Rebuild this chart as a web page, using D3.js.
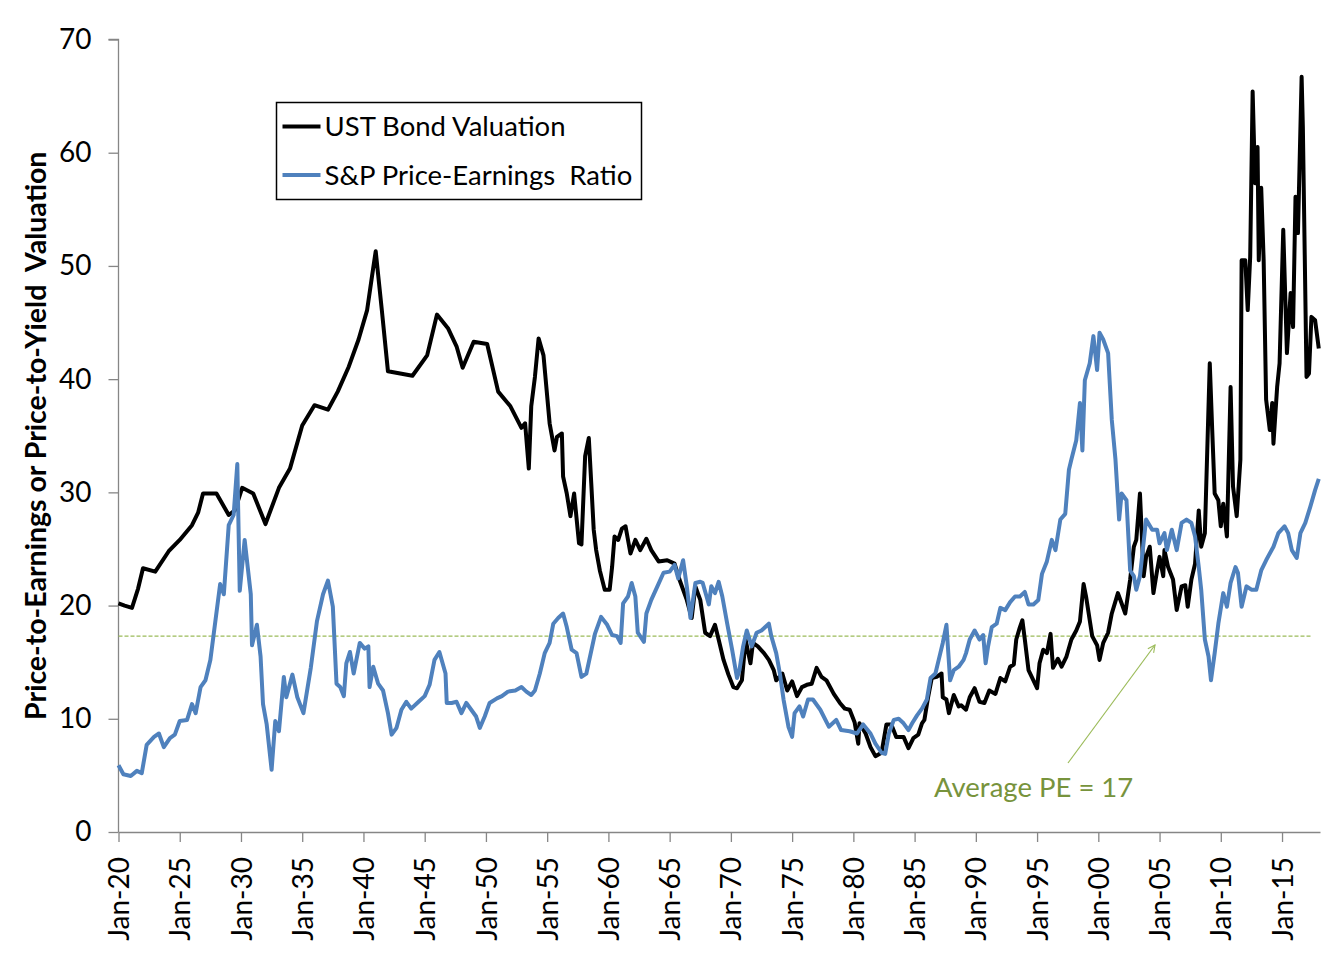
<!DOCTYPE html>
<html>
<head>
<meta charset="utf-8">
<script src="https://cdn.jsdelivr.net/npm/d3@7"></script>
<style>
  body { margin: 0; background: #fff; }
  svg { display: block; font-family: Lato, "Open Sans", sans-serif; }
</style>
</head>
<body>
<script>
// decimal year, value
const ustBond = [
  [1920.0, 20.2], [1920.5, 20.0], [1921.1, 19.8], [1921.6, 21.5], [1922.0, 23.3], [1923.0, 23.0],
  [1924.1, 24.8], [1925.0, 25.8], [1926.0, 27.1], [1926.5, 28.2], [1926.9, 29.9], [1928.0, 29.9],
  [1929.0, 28.0], [1929.5, 28.4], [1930.1, 30.4], [1931.0, 29.9], [1932.0, 27.2], [1933.1, 30.4],
  [1934.0, 32.1], [1935.0, 35.9], [1936.0, 37.7], [1937.1, 37.3], [1937.9, 38.9], [1938.8, 41.1],
  [1939.6, 43.5], [1940.3, 46.1], [1940.7, 49.1], [1941.0, 51.3], [1941.5, 46.1], [1942.0, 40.7],
  [1943.0, 40.5], [1944.0, 40.3], [1945.2, 42.1], [1946.0, 45.7], [1946.9, 44.5], [1947.6, 42.9],
  [1948.1, 41.0], [1949.0, 43.3], [1950.1, 43.1], [1951.0, 38.9], [1952.0, 37.6], [1952.9, 35.7],
  [1953.2, 36.1], [1953.5, 32.1], [1953.7, 37.6], [1954.0, 40.2], [1954.3, 43.6], [1954.7, 42.1],
  [1955.2, 36.1], [1955.6, 33.7], [1955.8, 34.9], [1956.2, 35.2], [1956.3, 31.4], [1956.6, 29.9],
  [1956.9, 27.9], [1957.2, 29.9], [1957.6, 25.5], [1957.8, 25.4], [1958.1, 33.2], [1958.4, 34.8],
  [1958.6, 30.8], [1958.8, 26.7], [1959.0, 24.9], [1959.3, 23.1], [1959.7, 21.4], [1960.1, 21.4],
  [1960.3, 23.4], [1960.5, 26.1], [1960.8, 25.8], [1961.1, 26.8], [1961.4, 27.0], [1961.8, 24.6],
  [1962.2, 25.8], [1962.6, 24.9], [1963.1, 25.9], [1963.5, 24.9], [1964.1, 23.9], [1964.8, 24.0],
  [1965.4, 23.7], [1965.8, 22.3], [1966.4, 20.5], [1966.8, 18.9], [1967.1, 21.7], [1967.5, 20.5],
  [1967.9, 17.6], [1968.3, 17.3], [1968.7, 18.3], [1969.0, 17.0], [1969.4, 15.2], [1969.8, 13.9],
  [1970.2, 12.8], [1970.5, 12.7], [1970.9, 13.4], [1971.2, 17.0], [1971.6, 14.9], [1971.8, 16.7],
  [1972.2, 16.4], [1972.7, 15.8], [1973.1, 15.2], [1973.5, 14.3], [1973.7, 13.4], [1974.2, 14.0],
  [1974.6, 12.5], [1975.0, 13.3], [1975.4, 12.0], [1975.8, 12.8], [1976.2, 13.0], [1976.6, 13.1],
  [1977.0, 14.5], [1977.4, 13.7], [1977.8, 13.4], [1978.4, 12.2], [1978.9, 11.4], [1979.3, 10.9],
  [1979.7, 10.8], [1980.1, 9.7], [1980.4, 7.8], [1980.5, 9.6], [1981.0, 8.7], [1981.4, 7.5],
  [1981.8, 6.7], [1982.3, 7.0], [1982.7, 9.5], [1983.1, 9.5], [1983.5, 8.4], [1984.1, 8.4],
  [1984.5, 7.4], [1984.9, 8.3], [1985.3, 8.6], [1985.6, 9.6], [1985.8, 9.9], [1986.1, 11.9],
  [1986.4, 13.6], [1986.8, 13.7], [1987.2, 14.0], [1987.3, 11.9], [1987.6, 11.7], [1987.8, 10.5],
  [1988.2, 12.1], [1988.6, 11.1], [1988.8, 11.2], [1989.2, 10.8], [1989.5, 11.9], [1989.9, 12.7],
  [1990.3, 11.5], [1990.7, 11.4], [1991.1, 12.5], [1991.6, 12.2], [1992.0, 13.6], [1992.4, 13.3],
  [1992.8, 14.6], [1993.1, 14.8], [1993.3, 17.0], [1993.6, 18.1], [1993.8, 18.7], [1994.0, 17.0],
  [1994.3, 14.3], [1994.7, 13.4], [1995.0, 12.7], [1995.2, 14.9], [1995.5, 16.1], [1995.8, 15.8],
  [1996.1, 17.5], [1996.3, 14.5], [1996.7, 15.3], [1997.0, 14.6], [1997.4, 15.5], [1997.8, 17.0],
  [1998.2, 17.8], [1998.5, 18.6], [1998.8, 21.9], [1999.0, 20.8], [1999.5, 17.3], [1999.9, 16.5],
  [2000.1, 15.2], [2000.4, 16.7], [2000.8, 17.6], [2001.1, 19.3], [2001.6, 21.1], [2002.2, 19.3],
  [2002.6, 22.3], [2002.9, 25.2], [2003.1, 25.8], [2003.4, 29.9], [2003.7, 22.6], [2003.9, 24.3],
  [2004.2, 25.2], [2004.5, 21.1], [2004.8, 23.1], [2005.0, 24.3], [2005.3, 22.6], [2005.4, 24.9],
  [2005.7, 23.4], [2006.1, 22.3], [2006.4, 19.6], [2006.8, 21.7], [2007.1, 21.8], [2007.3, 19.9],
  [2007.6, 22.3], [2007.9, 23.7], [2008.2, 28.4], [2008.4, 25.2], [2008.7, 26.4], [2009.1, 41.4],
  [2009.3, 35.5], [2009.5, 29.9], [2009.8, 29.3], [2010.0, 27.0], [2010.2, 29.0], [2010.5, 26.1],
  [2010.8, 39.3], [2011.0, 30.5], [2011.3, 27.9], [2011.6, 32.9], [2011.7, 50.5], [2012.0, 50.5],
  [2012.2, 46.1], [2012.4, 50.8], [2012.6, 65.4], [2012.8, 57.3], [2013.0, 60.5], [2013.1, 50.5],
  [2013.3, 56.9], [2013.5, 50.5], [2013.7, 38.2], [2014.0, 35.5], [2014.2, 37.9], [2014.3, 34.3],
  [2014.6, 39.3], [2014.8, 41.4], [2015.1, 53.2], [2015.4, 42.3], [2015.7, 47.6], [2015.9, 44.6],
  [2016.1, 56.1], [2016.3, 52.9], [2016.6, 66.7], [2016.7, 62.3], [2017.0, 40.2], [2017.2, 40.5],
  [2017.4, 45.5], [2017.7, 45.2], [2018.0, 42.7]
];

const spPE = [
  [1920.0, 5.9], [1920.4, 5.1], [1921.0, 4.95], [1921.5, 5.4], [1921.9, 5.2], [1922.3, 7.7],
  [1922.9, 8.4], [1923.3, 8.7], [1923.7, 7.5], [1924.2, 8.3], [1924.6, 8.6], [1925.0, 9.8],
  [1925.6, 9.9], [1926.0, 11.3], [1926.3, 10.5], [1926.7, 12.8], [1927.1, 13.4], [1927.5, 15.2],
  [1927.8, 17.7], [1928.3, 21.9], [1928.6, 21.0], [1929.0, 27.1], [1929.4, 28.0], [1929.7, 32.5],
  [1929.9, 21.3], [1930.3, 25.8], [1930.8, 21.0], [1930.9, 16.5], [1931.3, 18.3], [1931.6, 15.5],
  [1931.8, 11.3], [1932.1, 9.5], [1932.5, 5.5], [1932.8, 9.8], [1933.1, 8.9], [1933.5, 13.7],
  [1933.7, 11.9], [1934.2, 13.9], [1934.6, 11.9], [1935.1, 10.5], [1935.7, 14.5], [1936.2, 18.6],
  [1936.7, 21.0], [1937.1, 22.2], [1937.5, 19.9], [1937.8, 13.1], [1938.1, 12.8], [1938.4, 12.0],
  [1938.6, 14.9], [1938.9, 15.9], [1939.2, 14.0], [1939.7, 16.7], [1940.1, 16.2], [1940.4, 16.4],
  [1940.5, 12.8], [1940.8, 14.6], [1941.2, 13.1], [1941.6, 12.5], [1942.0, 10.5], [1942.3, 8.6],
  [1942.7, 9.2], [1943.1, 10.8], [1943.5, 11.5], [1943.9, 10.9], [1944.5, 11.5], [1945.0, 12.0],
  [1945.4, 13.0], [1945.8, 15.2], [1946.2, 15.9], [1946.7, 14.0], [1946.8, 11.4], [1947.2, 11.4],
  [1947.6, 11.5], [1948.0, 10.5], [1948.4, 11.4], [1948.8, 10.8], [1949.2, 10.2], [1949.5, 9.2],
  [1949.9, 10.2], [1950.3, 11.4], [1950.9, 11.8], [1951.3, 12.0], [1951.8, 12.4], [1952.4, 12.5],
  [1952.9, 12.8], [1953.3, 12.4], [1953.7, 12.1], [1954.0, 12.5], [1954.4, 14.0], [1954.8, 15.8],
  [1955.2, 16.7], [1955.5, 18.4], [1955.9, 18.9], [1956.3, 19.3], [1956.6, 18.1], [1957.0, 16.1],
  [1957.4, 15.8], [1957.8, 13.7], [1958.2, 14.0], [1958.9, 17.5], [1959.4, 19.0], [1959.9, 18.3],
  [1960.3, 17.4], [1960.7, 17.3], [1961.0, 16.7], [1961.2, 20.2], [1961.6, 20.8], [1961.9, 22.0],
  [1962.2, 20.8], [1962.4, 17.6], [1962.9, 16.8], [1963.1, 19.3], [1963.5, 20.5], [1964.0, 21.7],
  [1964.5, 22.9], [1965.0, 23.0], [1965.4, 23.6], [1965.7, 22.4], [1966.1, 24.0], [1966.4, 21.7],
  [1966.7, 18.9], [1967.1, 22.0], [1967.5, 22.1], [1967.7, 22.0], [1968.2, 20.1], [1968.4, 21.7],
  [1968.7, 21.1], [1969.0, 22.1], [1969.3, 20.8], [1969.7, 18.4], [1970.1, 16.1], [1970.5, 13.6],
  [1970.7, 14.3], [1971.0, 16.4], [1971.3, 17.8], [1971.7, 16.4], [1972.1, 17.6], [1972.5, 17.8],
  [1973.1, 18.4], [1973.3, 17.3], [1973.7, 15.8], [1974.0, 14.0], [1974.3, 11.7], [1974.7, 9.3],
  [1975.0, 8.4], [1975.2, 10.5], [1975.6, 11.1], [1975.9, 10.2], [1976.3, 11.7], [1976.7, 11.7],
  [1977.3, 10.8], [1978.0, 9.3], [1978.6, 9.9], [1979.0, 9.0], [1979.7, 8.9], [1980.3, 8.7],
  [1980.8, 9.5], [1981.4, 8.7], [1981.8, 7.8], [1982.3, 7.0], [1982.6, 6.9], [1982.9, 8.7],
  [1983.3, 9.9], [1983.7, 10.0], [1984.1, 9.6], [1984.5, 9.0], [1984.8, 9.6], [1985.2, 10.3],
  [1985.6, 10.9], [1986.0, 11.7], [1986.3, 13.6], [1986.7, 14.0], [1987.1, 15.8], [1987.3, 16.7],
  [1987.6, 18.3], [1987.9, 13.4], [1988.2, 14.3], [1988.6, 14.6], [1989.0, 15.2], [1989.2, 15.8],
  [1989.5, 17.0], [1989.9, 17.8], [1990.3, 17.0], [1990.6, 17.4], [1990.8, 14.9], [1991.0, 16.4],
  [1991.3, 18.1], [1991.7, 18.4], [1992.0, 19.8], [1992.4, 19.6], [1992.8, 20.3], [1993.2, 20.8],
  [1993.6, 20.8], [1994.0, 21.2], [1994.3, 20.1], [1994.7, 20.1], [1995.1, 20.5], [1995.4, 22.8],
  [1995.8, 23.9], [1996.2, 25.8], [1996.5, 24.9], [1996.9, 27.6], [1997.3, 28.1], [1997.6, 32.0],
  [1997.8, 32.9], [1998.2, 34.6], [1998.5, 37.9], [1998.7, 33.7], [1998.9, 39.9], [1999.3, 41.4],
  [1999.6, 43.8], [1999.9, 40.8], [2000.1, 44.1], [2000.4, 43.5], [2000.8, 42.3], [2001.1, 36.4],
  [2001.4, 32.9], [2001.7, 27.6], [2001.9, 29.9], [2002.3, 29.3], [2002.6, 23.1], [2002.9, 22.6],
  [2003.1, 21.4], [2003.4, 22.6], [2003.9, 27.6], [2004.4, 26.7], [2004.8, 26.7], [2005.0, 25.5],
  [2005.4, 26.4], [2005.6, 24.9], [2006.0, 26.7], [2006.4, 24.9], [2006.8, 27.3], [2007.2, 27.6],
  [2007.6, 27.3], [2007.9, 26.1], [2008.2, 23.4], [2008.4, 21.4], [2008.7, 17.0], [2009.0, 15.5],
  [2009.2, 13.4], [2009.5, 15.8], [2009.8, 18.4], [2010.2, 21.1], [2010.5, 19.9], [2010.8, 22.0],
  [2011.2, 23.4], [2011.4, 22.9], [2011.7, 19.9], [2012.1, 21.7], [2012.5, 21.4], [2012.9, 21.4],
  [2013.3, 23.1], [2013.7, 24.0], [2014.3, 25.2], [2014.7, 26.4], [2015.2, 27.0], [2015.5, 26.4],
  [2015.8, 24.9], [2016.2, 24.2], [2016.5, 26.4], [2016.9, 27.3], [2017.3, 28.7], [2017.7, 30.2],
  [2018.0, 31.2]
];

const seriesNames = ["UST Bond Valuation", "S&P Price-Earnings  Ratio"];
const averagePE = 17.3;
const yTicks = [0, 10, 20, 30, 40, 50, 60, 70];
const xTickYears = [1920, 1925, 1930, 1935, 1940, 1945, 1950, 1955, 1960, 1965,
  1970, 1975, 1980, 1985, 1990, 1995, 2000, 2005, 2010, 2015];
const xTickLabels = ["Jan-20", "Jan-25", "Jan-30", "Jan-35", "Jan-40", "Jan-45", "Jan-50",
  "Jan-55", "Jan-60", "Jan-65", "Jan-70", "Jan-75", "Jan-80", "Jan-85", "Jan-90", "Jan-95",
  "Jan-00", "Jan-05", "Jan-10", "Jan-15"];

const width = 1326, height = 966;
const blue = "#4f81bd", green = "#77933c", axisGrey = "#868686";

const x = d3.scaleLinear().domain([1920, 2018.1]).range([118.5, 1320]);
const y = d3.scaleLinear().domain([0, 70]).range([832, 39.5]);

const svg = d3.select("body").append("svg")
    .attr("width", width)
    .attr("height", height);

svg.append("rect").attr("width", width).attr("height", height).attr("fill", "#fff");

svg.append("defs").append("marker")
    .attr("id", "arrow")
    .attr("viewBox", "0 0 10 10")
    .attr("refX", 9).attr("refY", 5)
    .attr("markerWidth", 9).attr("markerHeight", 9)
    .attr("markerUnits", "userSpaceOnUse")
    .attr("orient", "auto")
  .append("path")
    .attr("d", "M1,1 L9,5 L1,9")
    .attr("fill", "none")
    .attr("stroke", "#9bbb59")
    .attr("stroke-width", 1.2);

// axes
const yAxis = svg.append("g")
    .attr("transform", `translate(${x.range()[0]},0)`)
    .call(d3.axisLeft(y).tickValues(yTicks).tickSize(10).tickPadding(17));

const xAxis = svg.append("g")
    .attr("transform", `translate(0,${y(0)})`)
    .call(d3.axisBottom(x).tickValues(xTickYears).tickSize(10)
      .tickFormat((d, i) => xTickLabels[i]).tickSizeOuter(0));

for (const g of [xAxis, yAxis]) {
  g.select(".domain").attr("stroke", axisGrey).attr("stroke-width", 1.3);
  g.selectAll(".tick line").attr("stroke", axisGrey).attr("stroke-width", 1.3);
  g.selectAll("text").attr("fill", "#000").style("font-size", "28px")
      .style("font-family", "Lato, sans-serif");
}
yAxis.select(".domain").attr("d", `M-0,${y(0)}V${y(70)}H-10`);

xAxis.selectAll(".tick text")
    .attr("transform", "rotate(-90)")
    .attr("text-anchor", "end")
    .attr("x", -25)
    .attr("y", 0)
    .attr("dy", "0.36em");

svg.append("text")
    .attr("transform", `translate(46,${(y(0) + y(70)) / 2}) rotate(-90)`)
    .attr("text-anchor", "middle")
    .style("font-size", "28.5px")
    .style("font-weight", "bold")
    .style("white-space", "pre")
    .text("Price-to-Earnings or Price-to-Yield  Valuation");

// average line
svg.append("line")
    .attr("x1", x(1920)).attr("x2", x(2017.4))
    .attr("y1", y(averagePE)).attr("y2", y(averagePE))
    .attr("stroke", "#9bbb59")
    .attr("stroke-width", 1.2)
    .attr("stroke-dasharray", "4,2");

const line = d3.line().x(d => x(d[0])).y(d => y(d[1]));

svg.append("path")
    .datum(ustBond)
    .attr("d", line)
    .attr("fill", "none")
    .attr("stroke", "#000")
    .attr("stroke-width", 4)
    .attr("stroke-linejoin", "round");

svg.append("path")
    .datum(spPE)
    .attr("d", line)
    .attr("fill", "none")
    .attr("stroke", blue)
    .attr("stroke-width", 4)
    .attr("stroke-linejoin", "round");

// annotation
svg.append("line")
    .attr("x1", 1068).attr("y1", 763)
    .attr("x2", 1155).attr("y2", 645)
    .attr("stroke", "#9bbb59")
    .attr("stroke-width", 1.2)
    .attr("marker-end", "url(#arrow)");

svg.append("text")
    .attr("x", 934)
    .attr("y", 797)
    .attr("fill", green)
    .style("font-size", "27.5px")
    .text("Average PE = 17");

// legend
const legend = svg.append("g").attr("transform", "translate(276.5,102.5)");
legend.append("rect")
    .attr("width", 365)
    .attr("height", 97)
    .attr("fill", "#fff")
    .attr("stroke", "#000")
    .attr("stroke-width", 1.5);

const item = legend.selectAll("g")
  .data(seriesNames)
  .join("g")
    .attr("transform", (d, i) => `translate(0,${24 + i * 48.5})`);

item.append("line")
    .attr("x1", 6).attr("x2", 44)
    .attr("stroke", (d, i) => i ? blue : "#000")
    .attr("stroke-width", 4);

item.append("text")
    .attr("x", 48)
    .attr("dy", "0.35em")
    .style("font-size", "27.5px")
    .style("white-space", "pre")
    .text(d => d);
</script>
</body>
</html>
